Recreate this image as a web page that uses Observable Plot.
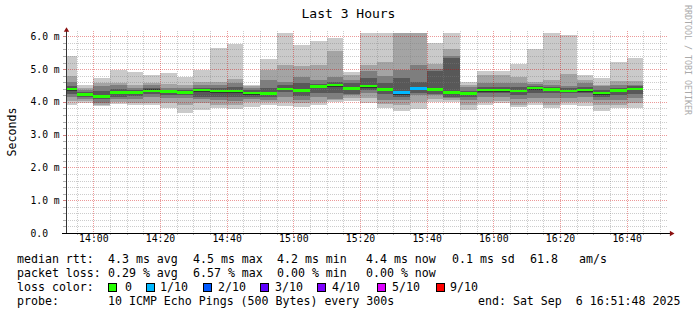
<!DOCTYPE html>
<html><head><meta charset="utf-8">
<script src="https://cdn.jsdelivr.net/npm/d3@7"></script>
<script src="https://cdn.jsdelivr.net/npm/@observablehq/plot@0.6"></script>
<style>
body{margin:0;background:#fff;}
#wrap{position:relative;width:697px;height:315px;overflow:hidden;font-family:"DejaVu Sans Mono",monospace;color:#000;background:#fff;}
#chart{position:absolute;left:0;top:0;}
.t{position:absolute;white-space:pre;font-size:11.6px;line-height:14px;}
.box{position:absolute;width:9px;height:9px;box-sizing:border-box;border:1px solid #000;}
#title{position:absolute;left:0;top:6px;width:697px;text-align:center;font-size:13px;line-height:16px;}
#ylab{position:absolute;left:12px;top:132px;transform:translate(-50%,-50%) rotate(-90deg);font-size:11.6px;white-space:nowrap;}
#wm{position:absolute;left:683px;top:5px;writing-mode:vertical-rl;font-size:8.3px;color:#aaa;white-space:nowrap;line-height:10px;}
</style></head><body>
<div id="wrap"><div id="chart"></div></div>
<script>
// ---- data ----
const title = "Last 3 Hours";
const yLabel = "Seconds";
const watermark = "RRDTOOL / TOBI OETIKER";
const endTime = "16:51:48";
const windowMinutes = 180;
const stepSeconds = 300;
const slots = ["13:50","13:55","14:00","14:05","14:10","14:15","14:20","14:25","14:30","14:35","14:40","14:45","14:50","14:55","15:00","15:05","15:10","15:15","15:20","15:25","15:30","15:35","15:40","15:45","15:50","15:55","16:00","16:05","16:10","16:15","16:20","16:25","16:30","16:35","16:40"];
// sorted ping RTTs (ms), lowest (p1) to highest (p10)
const p1  = [3.90,3.96,3.86,3.93,3.89,3.89,3.81,3.66,3.76,3.81,3.79,3.85,3.89,3.86,3.84,3.89,3.99,4.04,3.96,3.81,3.73,3.79,4.01,3.99,3.76,3.89,3.96,3.83,3.89,3.81,3.89,3.86,3.71,3.81,3.81];
const p2  = [4.03,4.03,3.91,3.99,3.96,3.96,3.96,3.91,3.96,3.89,3.89,3.99,3.99,4.01,3.96,3.99,4.06,4.12,4.13,3.93,3.91,4.01,4.09,4.06,3.91,4.01,4.03,3.91,4.01,3.91,3.99,4.01,3.91,3.91,3.96];
const p3  = [4.15,4.09,3.96,4.09,4.09,4.16,4.13,4.11,4.09,4.06,4.03,4.09,4.06,4.16,4.06,4.16,4.09,4.21,4.26,4.06,4.06,4.21,4.21,4.11,4.06,4.16,4.16,4.09,4.11,4.11,4.11,4.16,4.06,4.06,4.11];
const p4  = [4.25,4.16,4.10,4.16,4.19,4.24,4.21,4.21,4.16,4.16,4.16,4.16,4.16,4.29,4.19,4.26,4.28,4.25,4.36,4.25,4.16,4.26,4.23,4.16,4.16,4.26,4.26,4.21,4.26,4.26,4.26,4.26,4.16,4.21,4.23];
const p5  = [4.33,4.19,4.11,4.24,4.24,4.29,4.26,4.25,4.30,4.27,4.27,4.22,4.21,4.36,4.30,4.42,4.46,4.36,4.43,4.33,4.22,4.36,4.33,4.24,4.21,4.31,4.31,4.29,4.37,4.33,4.29,4.31,4.22,4.30,4.35];
const p6  = [4.43,4.26,4.21,4.33,4.33,4.38,4.35,4.33,4.40,4.36,4.36,4.30,4.29,4.43,4.40,4.50,4.54,4.44,4.52,4.41,4.31,4.45,4.41,4.33,4.29,4.39,4.39,4.37,4.45,4.41,4.37,4.39,4.30,4.38,4.43];
const p7  = [4.48,4.30,4.32,4.40,4.37,4.42,4.37,4.36,4.42,4.42,4.44,4.37,4.42,4.50,4.57,4.55,4.62,4.57,4.74,4.57,4.72,4.62,4.94,5.35,4.32,4.44,4.44,4.44,4.47,4.44,4.42,4.44,4.37,4.42,4.47];
const p8  = [4.62,4.37,4.47,4.50,4.42,4.50,4.42,4.42,4.52,4.52,4.57,4.42,4.67,4.62,4.77,4.67,4.77,4.67,4.94,4.79,4.97,5.11,5.00,5.40,4.44,4.57,4.57,4.57,4.54,4.50,4.47,4.57,4.47,4.52,4.52];
const p9  = [4.78,4.42,4.59,4.57,4.50,4.57,4.54,4.52,4.62,4.60,4.70,4.47,4.97,5.13,5.08,5.13,5.55,4.82,5.13,5.23,6.20,6.20,5.14,5.62,4.50,4.82,4.82,4.77,4.60,4.67,4.84,4.67,4.52,4.64,4.64];
const p10 = [5.39,4.50,4.74,4.97,4.90,4.81,4.87,4.75,4.97,5.63,5.77,4.50,5.30,6.09,5.72,5.86,5.94,4.90,6.10,6.10,6.30,6.30,5.79,6.09,4.60,4.94,4.94,5.16,5.60,6.09,6.04,4.81,4.72,5.21,5.33];
const median = [4.40,4.23,4.16,4.29,4.29,4.34,4.31,4.29,4.37,4.33,4.33,4.27,4.26,4.40,4.35,4.47,4.51,4.41,4.48,4.38,4.28,4.41,4.38,4.29,4.26,4.36,4.36,4.34,4.42,4.38,4.34,4.36,4.27,4.35,4.40];
const lossTenths = [0,0,0,0,0,0,0,0,0,0,0,0,0,0,0,0,0,0,0,0,1,1,0,0,0,0,0,0,0,0,0,0,0,0,0];
// axis ticks
const yTicks = [0,1,2,3,4,5,6];
const yTickLabels = ["0.0","1.0 m","2.0 m","3.0 m","4.0 m","5.0 m","6.0 m"];
const xTickLabels = ["14:00","14:20","14:40","15:00","15:20","15:40","16:00","16:20","16:40"];
// legend
const lossLevels = [0,1,2,3,4,5,9];
const lossLabels = ["0","1/10","2/10","3/10","4/10","5/10","9/10"];
const lossColors = ["#26ff00","#00b8ff","#0059ff","#5e00ff","#7e00ff","#dd00ff","#ff0000"];
const rttLabel = "median rtt:";
const rttStats = ["4.3 ms avg","4.5 ms max","4.2 ms min","4.4 ms now","0.1 ms sd","61.8","am/s"];
const lossLabel = "packet loss:";
const lossStats = ["0.29 % avg","6.57 % max","0.00 % min","0.00 % now"];
const colorLabel = "loss color:";
const probeLabel = "probe:";
const probeText = "10 ICMP Echo Pings (500 Bytes) every 300s";
const endText = "end: Sat Sep  6 16:51:48 2025";

// ---- build ----
const T = s => new Date(`2025-09-06T${s.length === 5 ? s + ":00" : s}Z`);
const xEnd = T(endTime);
const xStart = new Date(+xEnd - windowMinutes * 60000);
const P = [p1,p2,p3,p4,p5,p6,p7,p8,p9,p10];
const rows = slots.map((s, i) => ({
  t0: T(s), t1: new Date(+T(s) + stepSeconds * 1000),
  p: P.map(a => a[i]), med: median[i], loss: lossTenths[i]
}));
const lossColor = l => lossColors[lossLevels.indexOf(l)];
const smoke = ["#cacaca","#a4a4a4","#7e7e7e","#585858","#323232"];

const minorY = d3.range(1, 31).map(i => i / 5).filter(v => Math.abs(v - Math.round(v)) > 1e-6);
const majorX = xTickLabels.map(T);
const allX = d3.utcMinute.every(5).range(new Date(+xStart + 1), xEnd);
const minorX = allX.filter(d => !majorX.some(m => +m === +d));
const mono = "DejaVu Sans Mono";

const marks = [];
smoke.forEach((c, k) => {
  marks.push(Plot.rect(rows, {x1: "t0", x2: "t1", y1: d => d.p[k], y2: d => d.p[9 - k], fill: c, shapeRendering: "crispEdges", clip: true}));
});
// grid
marks.push(Plot.ruleY(minorY, {stroke: "#808080", strokeOpacity: 0.4, strokeDasharray: "1,1", shapeRendering: "crispEdges", insetRight: -1}));
marks.push(Plot.ruleY(yTicks.filter(v => v > 0), {stroke: "#d00000", strokeOpacity: 0.4, strokeDasharray: "1,1", shapeRendering: "crispEdges", insetRight: -1}));
marks.push(Plot.ruleX(minorX, {stroke: "#808080", strokeOpacity: 0.4, strokeDasharray: "1,1", shapeRendering: "crispEdges", insetTop: -2}));
marks.push(Plot.ruleX(majorX, {stroke: "#d00000", strokeOpacity: 0.4, strokeDasharray: "1,1", shapeRendering: "crispEdges", insetTop: -2}));
// median band coloured by loss
marks.push(Plot.rect(rows, {x1: "t0", x2: "t1", y1: "med", y2: "med", insetTop: -1.2, insetBottom: -1.2, fill: d => lossColor(d.loss), shapeRendering: "crispEdges", clip: true}));
// tick marks
marks.push(Plot.ruleY(minorY, {x1: () => xStart, x2: () => xStart, insetLeft: -3, stroke: "#b0b0b0", shapeRendering: "crispEdges"}));
marks.push(Plot.ruleY(yTicks, {x1: () => xStart, x2: () => xStart, insetLeft: -3, stroke: "#d08080", shapeRendering: "crispEdges"}));
marks.push(Plot.ruleX(minorX, {y1: () => 0, y2: () => 0, insetBottom: -2, stroke: "#b0b0b0", shapeRendering: "crispEdges"}));
marks.push(Plot.ruleX(majorX, {y1: () => 0, y2: () => 0, insetBottom: -3, stroke: "#d08080", shapeRendering: "crispEdges"}));
// axes
marks.push(Plot.ruleX([xStart], {stroke: "#333", insetTop: -4, shapeRendering: "crispEdges"}));
marks.push(Plot.ruleY([0], {stroke: "#000", insetLeft: -4, insetRight: -4, shapeRendering: "crispEdges"}));
marks.push(Plot.dot([0], {frameAnchor: "top-left", dy: -3.2, symbol: "triangle", r: 2, fill: "#8b1010", stroke: null}));
marks.push(Plot.dot([0], {frameAnchor: "bottom-right", dx: 4.9, symbol: "triangle", r: 2, rotate: 90, fill: "#8b1010", stroke: null}));
// tick labels
marks.push(Plot.text(yTicks, {y: d => d, text: (d, i) => yTickLabels[i], frameAnchor: "left", dx: -36, textAnchor: "start", fontFamily: mono, fontSize: 9.7, fill: "#000"}));
marks.push(Plot.text(xTickLabels, {x: d => T(d), text: d => d, frameAnchor: "bottom", dy: 8, fontFamily: mono, fontSize: 9.8, fill: "#000"}));

const chart = Plot.plot({
  width: 697, height: 250,
  marginLeft: 66, marginRight: 31, marginTop: 33, marginBottom: 17,
  x: {type: "utc", domain: [xStart, xEnd], axis: null},
  y: {domain: [0, 6.1], axis: null},
  color: {type: "identity"},
  style: {fontFamily: mono, background: "transparent", overflow: "visible"},
  marks
});
document.getElementById("chart").appendChild(chart);

// ---- text & legend ----
const wrap = document.getElementById("wrap");
function add(cls, txt, left, top, extra) {
  const e = document.createElement("div");
  e.className = cls; if (txt != null) e.textContent = txt;
  e.style.left = left + "px"; e.style.top = top + "px";
  if (extra) Object.assign(e.style, extra);
  wrap.appendChild(e); return e;
}
const ti = document.createElement("div"); ti.id = "title"; ti.textContent = title; wrap.appendChild(ti);
const yl = document.createElement("div"); yl.id = "ylab"; yl.textContent = yLabel; wrap.appendChild(yl);
const wm = document.createElement("div"); wm.id = "wm"; wm.textContent = watermark; wrap.appendChild(wm);

const rowTop = [252.3, 265.7, 279.7, 294];
const cols = [108, 193, 277, 366, 452, 530, 579];
add("t", rttLabel, 17, rowTop[0]);
rttStats.forEach((s, i) => add("t", s, cols[i], rowTop[0]));
add("t", lossLabel, 17, rowTop[1]);
lossStats.forEach((s, i) => add("t", s, cols[i], rowTop[1]));
add("t", colorLabel, 17, rowTop[2]);
const boxX = [108, 146, 203, 260, 317, 377, 436];
const boxTextX = [125, 160, 218, 275, 332, 392, 450];
lossLabels.forEach((s, i) => {
  add("box", null, boxX[i], 283, {background: lossColors[i]});
  add("t", s, boxTextX[i], rowTop[2]);
});
add("t", probeLabel, 17, rowTop[3]);
add("t", probeText, 108, rowTop[3]);
add("t", endText, 478, rowTop[3]);
</script>
</body></html>
